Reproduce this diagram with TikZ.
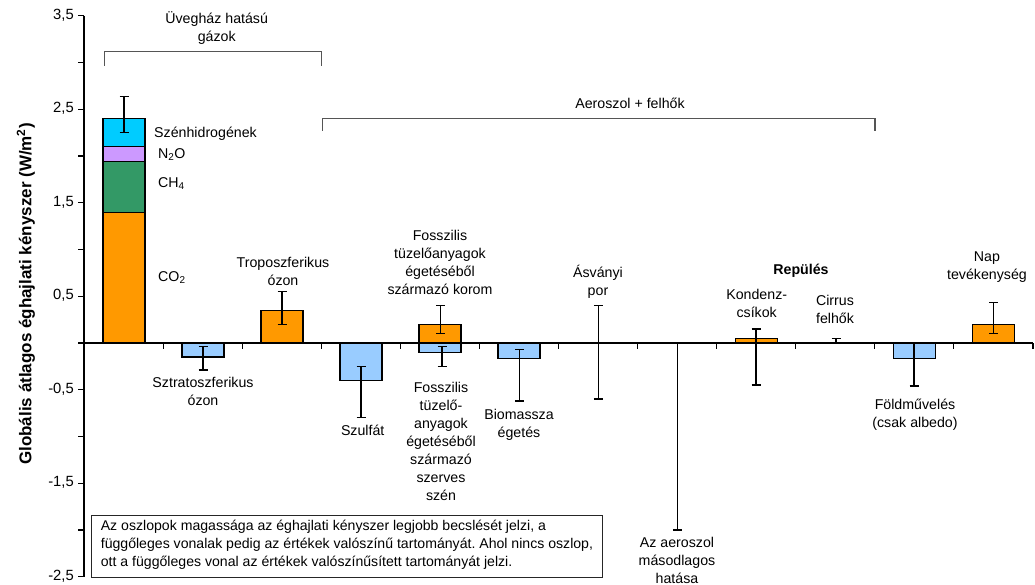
\documentclass[tikz,border=0pt]{standalone}
\usepackage{fontspec}
\setmainfont{Liberation Sans}
\definecolor{orng}{HTML}{FF9900}
\definecolor{lblue}{HTML}{99CCFF}
\definecolor{cyanb}{HTML}{00CCFF}
\definecolor{lav}{HTML}{CC99FF}
\definecolor{grn}{HTML}{339966}
\definecolor{brk}{HTML}{555555}
\newcommand\Y[1]{343-93.5*(#1)}
\begin{document}
\begin{tikzpicture}[x=1pt,y=-1pt,
  lbl/.style={font=\fontsize{14.2}{18}\selectfont, align=center, inner sep=0pt,
    execute at begin node=\strut, execute at end node=\strut},
  bar/.style={draw=black, line width=1.1pt},
  err/.style={draw=black, line width=1.3pt},
  axis/.style={draw=black, line width=1.1pt},
  bracket/.style={draw=brk, line width=1.5pt}]
\useasboundingbox (0,0) rectangle (1035,585);
% bars
\foreach \c/\a/\b/\col in {124/0/1.40/orng, 124/1.40/1.94/grn, 124/1.94/2.10/lav, 124/2.10/2.40/cyanb,
  203/0/-0.15/lblue, 282/0/0.35/orng, 361/0/-0.40/lblue, 440/0/0.20/orng, 440/0/-0.10/lblue,
  519/0/-0.17/lblue, 756.5/0/0.05/orng, 914.5/0/-0.17/lblue, 993.5/0/0.20/orng}
  \draw[bar, fill=\col] ({\c-21},{\Y{\a}}) rectangle ({\c+21},{\Y{\b}});
% axes
\draw[axis] (84,{\Y{3.5}}) -- (84,{\Y{-2.5}});
\draw[axis] (84,{\Y{0}}) -- (1033,{\Y{0}});
\foreach \v in {3.5,3.0,...,-2.5}
  \draw[axis] (78,{\Y{\v}}) -- (84,{\Y{\v}});
\foreach \k in {1,...,12}
  \draw[axis] ({84+79.08*\k},343) -- ({84+79.08*\k},349);
\foreach \v/\t/\n in {3.5/{3,5}/a, 2.5/{2,5}/b, 1.5/{1,5}/c, 0.5/{0,5}/d, -0.5/{-0,5}/e, -1.5/{-1,5}/f, -2.5/{-2,5}/g}
  \node[lbl, font=\fontsize{14.8}{18}\selectfont, anchor=east] (tick\n) at (74,{\Y{\v}}) {\t};
% error bars
\foreach \c/\a/\b in {124/2.25/2.64, 203/-0.035/-0.29, 282/0.20/0.55, 361/-0.25/-0.80,
  440.5/0.10/0.40, 442/-0.04/-0.25, 519.5/-0.07/-0.62, 598.3/0.40/-0.60, 677.5/0/-2.0,
  756/0.15/-0.45, 836/0.05/0, 914/0/-0.46, 993.7/0.10/0.43}
  \draw[err] (\c,{\Y{\a}}) -- (\c,{\Y{\b}}) ({\c-4.5},{\Y{\a}}) -- ({\c+4.5},{\Y{\a}}) ({\c-4.5},{\Y{\b}}) -- ({\c+4.5},{\Y{\b}});
% brackets
\draw[bracket] (104.3,65.7) -- (104.3,51.7) -- (321.7,51.7) -- (321.7,65.7);
\draw[bracket] (322.7,131) -- (322.7,118.5) -- (875,118.5) -- (875,131);
\node[lbl] (ghg) at (216.7,29.4) {Üvegház hatású\\gázok};
\node[lbl] (aer) at (630,105.4) {Aeroszol + felhők};
% labels
\node[lbl, anchor=west] (halo) at (154,134.4) {Szénhidrogének};
\node[lbl, anchor=west] (n2o) at (158,155) {N\textsubscript{2}O};
\node[lbl, anchor=west] (ch4) at (158,184) {CH\textsubscript{4}};
\node[lbl, anchor=west] (co2) at (158,278) {CO\textsubscript{2}};
\node[lbl] (trop) at (283,274.4) {Troposzferikus\\ózon};
\node[lbl] (strat) at (203,393.9) {Sztratoszferikus\\ózon};
\node[lbl] (soot) at (440,265.4) {Fosszilis\\tüzelőanyagok\\égetéséből\\származó korom};
\node[lbl] (dust) at (598,283.4) {Ásványi\\por};
\node[lbl] (sulf) at (362.7,431.4) {Szulfát};
\node[lbl] (oc) at (441,444.4) {Fosszilis\\tüzelő-\\anyagok\\égetéséből\\származó\\szerves\\szén};
\node[lbl] (bio) at (519,426) {Biomassza\\égetés};
\node[lbl] (ind) at (677,562.8) {Az aeroszol\\másodlagos\\hatása};
\node[lbl, font=\fontsize{14.2}{18}\selectfont\bfseries] (avi) at (801,270.4) {Repülés};
\node[lbl] (cont) at (756.7,306) {Kondenz-\\csíkok};
\node[lbl] (cirr) at (835,311.7) {Cirrus\\felhők};
\node[lbl] (sun) at (987,268) {Nap\\tevékenység};
\node[lbl] (land) at (915,415.6) {Földművelés\\(csak albedo)};
\node[lbl, rotate=90, font=\fontsize{17}{20}\selectfont\bfseries] (ylab) at (27,294)
  {Globális átlagos éghajlati kényszer (W/m\textsuperscript{2})};
% legend box
\node[lbl, anchor=north west, align=left, draw=black!85, line width=0.9pt,
  font=\fontsize{14.1}{18}\selectfont\frenchspacing,
  minimum width=511pt, minimum height=62pt, inner sep=0pt] (note) at (91,515)
  {Az oszlopok magassága az éghajlati kényszer legjobb becslését jelzi, a\\
   függőleges vonalak pedig az értékek valószínű tartományát. Ahol nincs oszlop,\\
   ott a függőleges vonal az értékek valószínűsített tartományát jelzi.};
\end{tikzpicture}
\end{document}
